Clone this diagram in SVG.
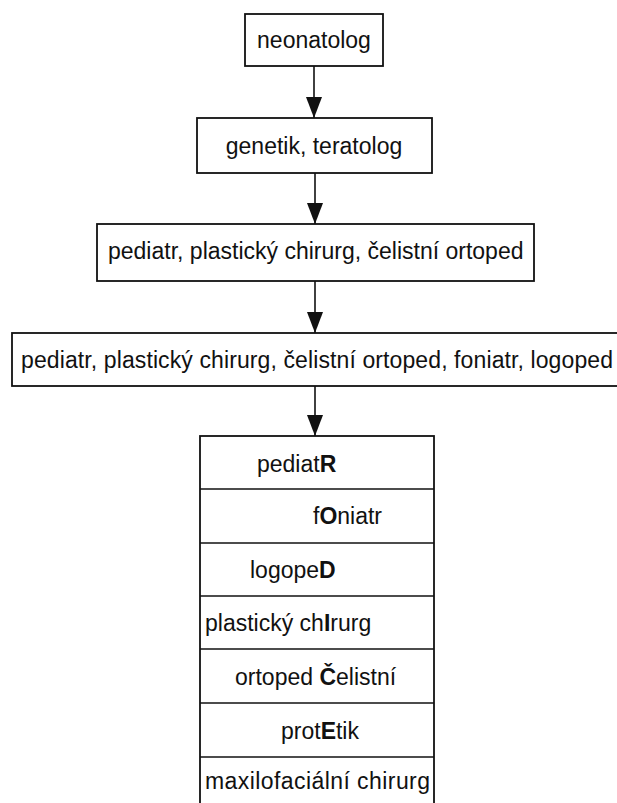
<svg xmlns="http://www.w3.org/2000/svg" width="617" height="803" viewBox="0 0 617 803">
<style>
.box{fill:#fff;stroke:#111;stroke-width:1.8}
.t{font-family:"Liberation Sans",Arial,sans-serif;font-size:23px;fill:#111}
.b{font-weight:bold}
.c{stroke:#111;stroke-width:1.6;fill:none}
.row{stroke:#111;stroke-width:1.6}
</style>
<defs>
<marker id="ah" markerUnits="userSpaceOnUse" markerWidth="21" markerHeight="16" viewBox="0 0 21 16" refX="21" refY="8" orient="auto">
<path d="M0,0 L21,8 L0,16 Z" fill="#111"/>
</marker>
</defs>
<rect width="617" height="803" fill="#fff"/>
<g id="connectors">
<line class="c" x1="314" y1="66" x2="314" y2="118" marker-end="url(#ah)"/>
<line class="c" x1="315" y1="173" x2="315" y2="224" marker-end="url(#ah)"/>
<line class="c" x1="315" y1="281" x2="315" y2="333" marker-end="url(#ah)"/>
<line class="c" x1="315" y1="386" x2="315" y2="436" marker-end="url(#ah)"/>
</g>
<g id="n1">
<rect class="box" x="245" y="14" width="138" height="52"/>
<text class="t" x="314" y="48" text-anchor="middle">neonatolog</text>
</g>
<g id="n2">
<rect class="box" x="197" y="118" width="235" height="55"/>
<text class="t" x="314" y="154" text-anchor="middle">genetik, teratolog</text>
</g>
<g id="n3">
<rect class="box" x="97" y="224" width="437" height="57"/>
<text class="t" x="108" y="259">pediatr, plastický chirurg, čelistní ortoped</text>
</g>
<g id="n4">
<rect class="box" x="12" y="333" width="612" height="53"/>
<text class="t" x="21" y="368" textLength="592" lengthAdjust="spacing">pediatr, plastický chirurg, čelistní ortoped, foniatr, logoped</text>
</g>
<g id="stack">
<rect class="box" x="200" y="436" width="234" height="380"/>
<line class="row" x1="200" y1="489" x2="434" y2="489"/>
<line class="row" x1="200" y1="543" x2="434" y2="543"/>
<line class="row" x1="200" y1="596" x2="434" y2="596"/>
<line class="row" x1="200" y1="649" x2="434" y2="649"/>
<line class="row" x1="200" y1="703" x2="434" y2="703"/>
<line class="row" x1="200" y1="757" x2="434" y2="757"/>
<text class="t" x="257" y="472">pediat<tspan class="b">R</tspan></text>
<text class="t" x="313" y="524">f<tspan class="b">O</tspan>niatr</text>
<text class="t" x="250" y="578">logope<tspan class="b">D</tspan></text>
<text class="t" x="205" y="631">plastický ch<tspan class="b">I</tspan>rurg</text>
<text class="t" x="235" y="685">ortoped <tspan class="b">Č</tspan>elistní</text>
<text class="t" x="281" y="739">prot<tspan class="b">E</tspan>tik</text>
<text class="t" x="205" y="789" textLength="225" lengthAdjust="spacing">maxilofaciální chirurg</text>
</g>
</svg>
